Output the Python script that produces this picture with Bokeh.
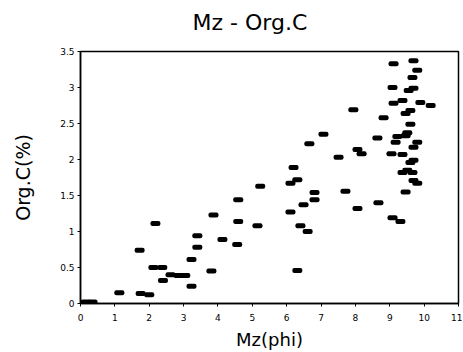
from bokeh.plotting import figure
from bokeh.models import Range1d, FixedTicker, ColumnDataSource, Title
from bokeh.embed import file_html
from bokeh.resources import INLINE

mz = [0.15, 0.35, 1.13, 1.75, 2.00, 1.72, 2.18, 2.12, 2.38, 2.40,
      2.62, 2.85, 3.05, 3.23, 3.23, 3.40, 3.40, 3.81, 3.87, 4.13,
      4.56, 4.59, 4.59, 5.15, 5.23, 6.11, 6.40, 6.61, 6.31, 6.49,
      6.81, 6.81, 6.11, 6.31, 6.20, 6.66, 7.07, 7.51, 7.71, 8.06,
      7.94, 8.06, 8.18, 8.67, 8.64, 8.82, 9.05, 9.37, 9.08, 9.31,
      9.11, 9.69, 9.80, 9.66, 9.08, 9.69, 9.55, 9.37, 9.11, 9.89,
      10.19, 9.60, 9.46, 9.60, 9.51, 9.22, 9.46, 9.80, 9.17, 9.69,
      9.69, 9.60, 9.51, 9.66, 9.37, 9.69, 9.80, 9.46]
orgc = [0.02, 0.02, 0.15, 0.14, 0.12, 0.74, 1.11, 0.50, 0.50, 0.32,
        0.40, 0.39, 0.39, 0.24, 0.61, 0.78, 0.94, 0.45, 1.23, 0.89,
        0.82, 1.14, 1.44, 1.08, 1.63, 1.27, 1.08, 1.00, 0.46, 1.37,
        1.44, 1.54, 1.67, 1.72, 1.89, 2.22, 2.35, 2.03, 1.56, 1.32,
        2.69, 2.14, 2.08, 1.40, 2.30, 2.58, 2.08, 2.07, 1.19, 1.14,
        3.33, 3.37, 3.24, 3.14, 3.00, 2.99, 2.96, 2.82, 2.78, 2.79,
        2.75, 2.68, 2.64, 2.49, 2.37, 2.32, 2.33, 2.24, 2.24, 2.17,
        1.99, 1.96, 1.85, 1.82, 1.82, 1.71, 1.67, 1.55]

x_ticks = [0, 1, 2, 3, 4, 5, 6, 7, 8, 9, 10, 11]
x_tick_labels = ["0", "1", "2", "3", "4", "5", "6", "7", "8", "9", "10", "11"]
y_ticks = [0, 0.5, 1, 1.5, 2, 2.5, 3, 3.5]
y_tick_labels = ["0", "0.5", "1", "1.5", "2", "2.5", "3", "3.5"]
title_text = "Mz - Org.C"

src = ColumnDataSource(dict(x=mz, y=orgc))

p = figure(width=462, height=352, output_backend="svg", toolbar_location=None,
           x_range=Range1d(0, 11), y_range=Range1d(0, 3.5), title=None,
           min_border_left=80, min_border_right=4, min_border_top=51, min_border_bottom=49)

p.rect(x="x", y="y", width=10, height=5, width_units="screen", height_units="screen",
       source=src, fill_color="black", line_color=None, border_radius=2)

# spacer between frame and title (closest to frame), then the real title
p.add_layout(Title(text=" ", text_font_size="10px", standoff=2), "above")
p.add_layout(Title(text=title_text, align="left", offset=112,
                   text_font="DejaVu Sans", text_font_size="22px",
                   text_font_style="normal", text_color="black", standoff=4), "above")

p.xgrid.visible = False
p.ygrid.visible = False
p.outline_line_color = "black"
p.outline_line_width = 1.5
p.background_fill_color = "white"
p.border_fill_color = "white"

for ax in (p.xaxis[0], p.yaxis[0]):
    ax.axis_line_color = "black"
    ax.axis_line_width = 1.5
    ax.major_tick_line_color = "black"
    ax.major_tick_in = 0
    ax.major_tick_out = 3
    ax.minor_tick_line_color = None
    ax.major_label_text_font = "DejaVu Sans"
    ax.major_label_text_font_size = "9px"
    ax.major_label_text_color = "black"
    ax.axis_label_text_font = "DejaVu Sans"
    ax.axis_label_text_font_style = "normal"
    ax.axis_label_text_color = "black"

p.xaxis[0].ticker = FixedTicker(ticks=x_ticks)
p.xaxis[0].major_label_overrides = dict(zip(x_ticks, x_tick_labels))
p.yaxis[0].ticker = FixedTicker(ticks=y_ticks)
p.yaxis[0].major_label_overrides = dict(zip(y_ticks, y_tick_labels))

p.xaxis[0].axis_label = "Mz(phi)"
p.xaxis[0].axis_label_text_font_size = "18px"
p.xaxis[0].major_label_standoff = 7
p.xaxis[0].axis_label_standoff = 5

p.yaxis[0].axis_label = "Org.C(%)"
p.yaxis[0].axis_label_text_font_size = "19px"
p.yaxis[0].major_label_standoff = 3
p.yaxis[0].axis_label_standoff = 23

open("out.html", "w").write(file_html(p, INLINE))
